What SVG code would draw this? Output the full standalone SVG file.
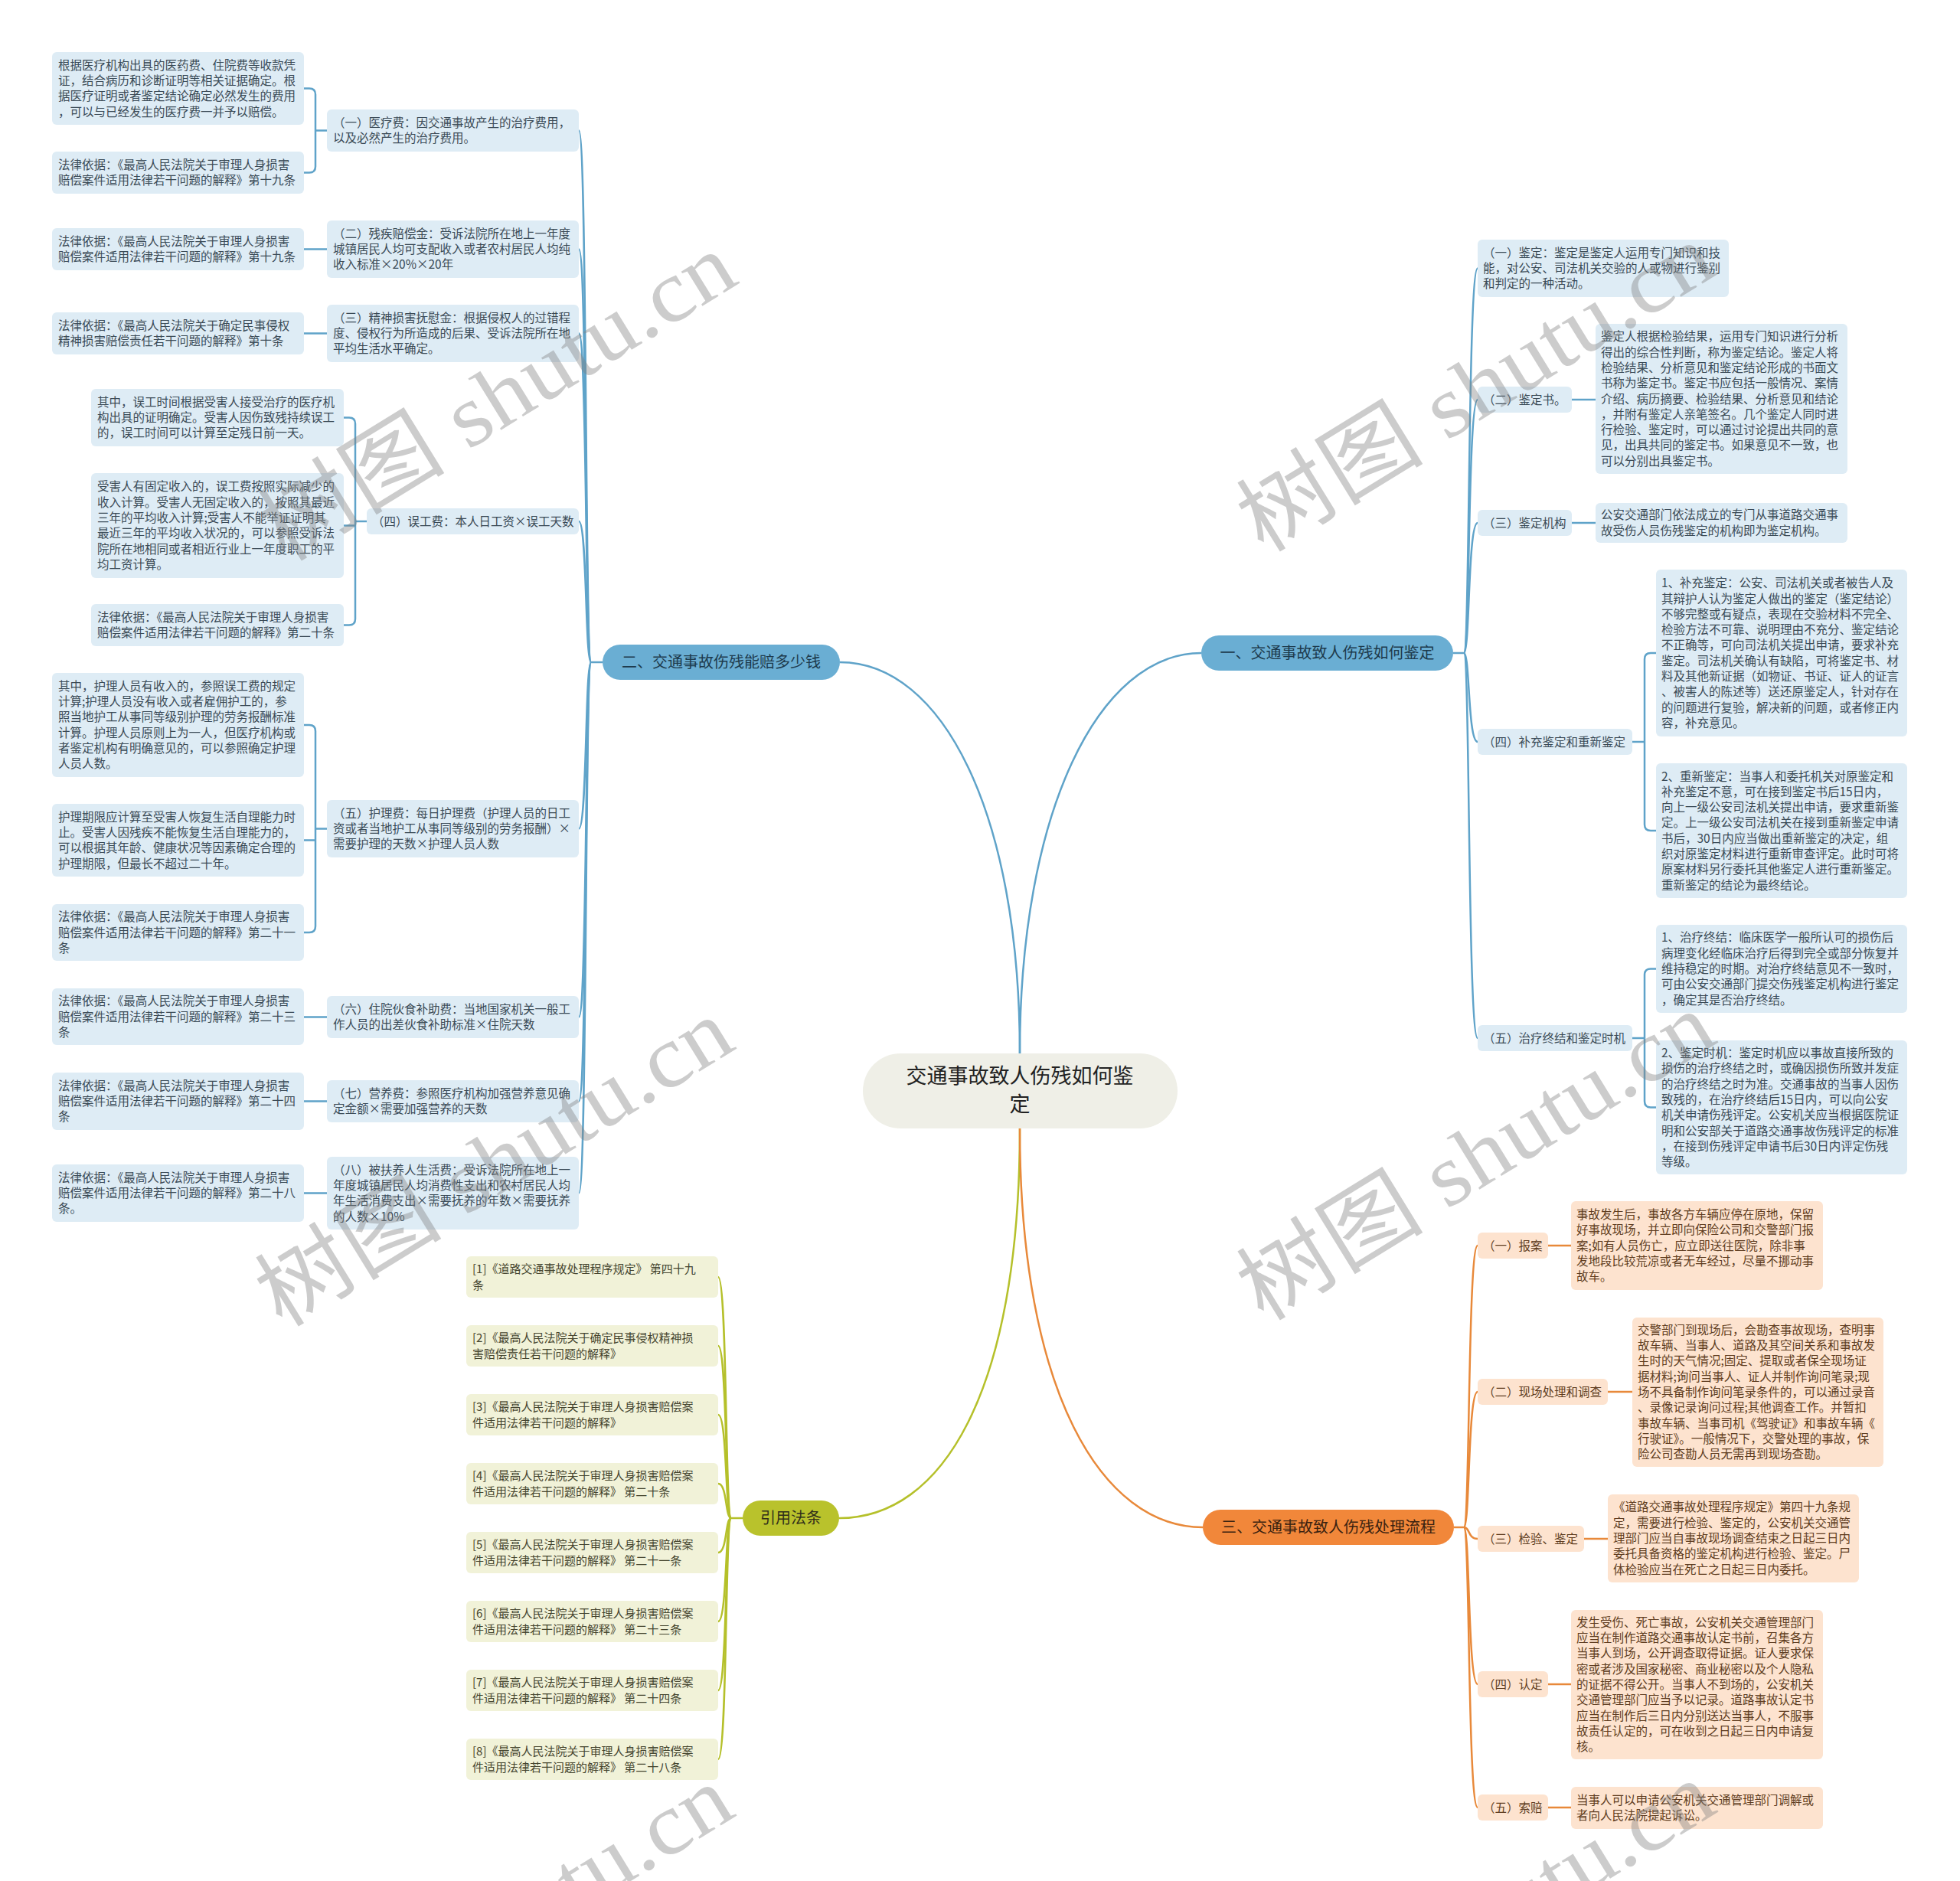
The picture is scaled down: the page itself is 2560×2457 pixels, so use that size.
<svg xmlns="http://www.w3.org/2000/svg" width="2560" height="2457" viewBox="0 0 2560 2457">
<style>
text{font-family:"Noto Sans CJK SC","Noto Sans",sans-serif}
.bb{fill:#deecf5}.bo{fill:#fde3cf}.by{fill:#f1f2d8}
.t{font-size:15.5px;fill:#3a4a56}
.to{font-size:15.5px;fill:#5e3c20}
.ty{font-size:15px;fill:#44442e}
.br{font-size:20px;text-anchor:middle}
.lnb{fill:none;stroke:#5fa3c9;stroke-width:2.5}
.lno{fill:none;stroke:#e8893a;stroke-width:2.5}
.lny{fill:none;stroke:#b5c02a;stroke-width:2.5}
.wm{font-family:"Liberation Serif","Noto Sans CJK SC",serif;font-size:115px;fill:#7f7f7f;fill-opacity:0.4;text-anchor:middle}
</style>
<rect width="2560" height="2457" fill="#ffffff"/>

<g id="connectors">
<path class="lnb" d="M1097,865 C1230,865 1332,1060 1332,1376"/>
<path class="lnb" d="M1569,853 C1435,853 1332,1060 1332,1376"/>
<path class="lny" d="M1332,1474 C1332,1820 1230,1983 1096,1983"/>
<path class="lno" d="M1332,1474 C1332,1820 1440,1995 1571,1995"/>
<!-- left spine -->
<path class="lnb" d="M787,865 H772"/>
<path class="lnb" d="M772,865 C764,865 767,170.5 756,170.5"/>
<path class="lnb" d="M772,865 C764,865 767,325.5 756,325.5"/>
<path class="lnb" d="M772,865 C764,865 767,435.5 756,435.5"/>
<path class="lnb" d="M772,865 C764,865 767,681 756,681"/>
<path class="lnb" d="M772,865 C764,865 767,1082.5 756,1082.5"/>
<path class="lnb" d="M772,865 C764,865 767,1328.5 756,1328.5"/>
<path class="lnb" d="M772,865 C764,865 767,1438.5 756,1438.5"/>
<path class="lnb" d="M772,865 C764,865 767,1558.5 756,1558.5"/>
<!-- left brackets -->
<path class="lnb" d="M427,170.5 H412 M412,170.5 V123.5 Q412,115.5 404,115.5 H397 M412,170.5 V217.5 Q412,225.5 404,225.5 H397"/>
<path class="lnb" d="M397,325.5 H427 M397,435.5 H427"/>
<path class="lnb" d="M479,681 H464 M464,681 V553.5 Q464,545.5 456,545.5 H449 M464,681 V686.5 H449 M464,681 V808.5 Q464,816.5 456,816.5 H449"/>
<path class="lnb" d="M427,1082.5 H412 M412,1082.5 V955 Q412,947 404,947 H397 M412,1082.5 V1097.5 H397 M412,1082.5 V1210 Q412,1218 404,1218 H397"/>
<path class="lnb" d="M397,1328.5 H427 M397,1438.5 H427 M397,1558.5 H427"/>
<!-- right spine -->
<path class="lnb" d="M1898,853 H1912"/>
<path class="lnb" d="M1912,853 C1920,853 1917,350.5 1930,350.5"/>
<path class="lnb" d="M1912,853 C1920,853 1917,522 1930,522"/>
<path class="lnb" d="M1912,853 C1920,853 1917,683 1930,683"/>
<path class="lnb" d="M1912,853 C1920,853 1917,969 1930,969"/>
<path class="lnb" d="M1912,853 C1920,853 1917,1356 1930,1356"/>
<path class="lnb" d="M2053,522 H2084 M2053,683 H2084"/>
<path class="lnb" d="M2132,969 H2148 M2148,969 V861 Q2148,853 2156,853 H2163 M2148,969 V1077 Q2148,1085 2156,1085 H2163"/>
<path class="lnb" d="M2132,1356 H2148 M2148,1356 V1273.5 Q2148,1265.5 2156,1265.5 H2163 M2148,1356 V1438.5 Q2148,1446.5 2156,1446.5 H2163"/>
<!-- orange spine -->
<path class="lno" d="M1899,1995 H1912"/>
<path class="lno" d="M1912,1995 C1920,1995 1917,1627 1930,1627"/>
<path class="lno" d="M1912,1995 C1920,1995 1917,1818 1930,1818"/>
<path class="lno" d="M1912,1995 C1920,1995 1917,2010 1930,2010"/>
<path class="lno" d="M1912,1995 C1920,1995 1917,2200 1930,2200"/>
<path class="lno" d="M1912,1995 C1920,1995 1917,2361 1930,2361"/>
<path class="lno" d="M2022,1627 H2052 M2100,1818 H2132 M2069,2010 H2100 M2022,2200 H2052 M2022,2361 H2052"/>
<!-- green spine -->
<path class="lny" d="M970,1983 H955"/>
<path class="lny" d="M955,1983 C947,1983 950,1668 938,1668"/>
<path class="lny" d="M955,1983 C947,1983 950,1758 938,1758"/>
<path class="lny" d="M955,1983 C947,1983 950,1848 938,1848"/>
<path class="lny" d="M955,1983 C947,1983 950,1938 938,1938"/>
<path class="lny" d="M955,1983 C947,1983 950,2028 938,2028"/>
<path class="lny" d="M955,1983 C947,1983 950,2118 938,2118"/>
<path class="lny" d="M955,1983 C947,1983 950,2208 938,2208"/>
<path class="lny" d="M955,1983 C947,1983 950,2298 938,2298"/>
</g>

<g id="center">
<rect x="1127" y="1376" width="411" height="98" rx="49" fill="#efefe7"/>
<text x="1332" y="1415" font-size="27" fill="#222" text-anchor="middle">交通事故致人伤残如何鉴</text>
<text x="1332" y="1452" font-size="27" fill="#222" text-anchor="middle">定</text>
</g>

<g id="branch-2">
<rect x="787" y="842" width="310" height="46" rx="23" fill="#6aaed3"/>
<text class="br" x="942" y="872" fill="#1d3a4c">二、交通事故伤残能赔多少钱</text>
</g>
<g id="branch-1">
<rect x="1569" y="830" width="329" height="46" rx="23" fill="#6aaed3"/>
<text class="br" x="1733.5" y="860" fill="#1d3a4c">一、交通事故致人伤残如何鉴定</text>
</g>
<g id="branch-cite">
<rect x="970" y="1960" width="126" height="46" rx="23" fill="#b9c22c"/>
<text class="br" x="1033" y="1990" fill="#2f2f1a">引用法条</text>
</g>
<g id="branch-3">
<rect x="1571" y="1972" width="328" height="46" rx="23" fill="#f1873a"/>
<text class="br" x="1735" y="2002" fill="#3a2210">三、交通事故致人伤残处理流程</text>
</g>

<!-- left sub nodes -->
<g id="s1"><rect class="bb" x="427" y="143" width="329" height="55" rx="6"/>
<text class="t" x="435" y="165.9"><tspan x="435">（一）医疗费：因交通事故产生的治疗费用，</tspan><tspan x="435" dy="20.3">以及必然产生的治疗费用。</tspan></text></g>
<g id="s2"><rect class="bb" x="427" y="288" width="329" height="75" rx="6"/>
<text class="t" x="435" y="310.7"><tspan x="435">（二）残疾赔偿金：受诉法院所在地上一年度</tspan><tspan x="435" dy="20.3">城镇居民人均可支配收入或者农村居民人均纯</tspan><tspan x="435" dy="20.3">收入标准×20%×20年</tspan></text></g>
<g id="s3"><rect class="bb" x="427" y="398" width="329" height="75" rx="6"/>
<text class="t" x="435" y="420.7"><tspan x="435">（三）精神损害抚慰金：根据侵权人的过错程</tspan><tspan x="435" dy="20.3">度、侵权行为所造成的后果、受诉法院所在地</tspan><tspan x="435" dy="20.3">平均生活水平确定。</tspan></text></g>
<g id="s4"><rect class="bb" x="479" y="664" width="277" height="34" rx="6"/>
<text class="t" x="486" y="686.5">（四）误工费：本人日工资×误工天数</text></g>
<g id="s5"><rect class="bb" x="427" y="1045" width="329" height="75" rx="6"/>
<text class="t" x="435" y="1067.7"><tspan x="435">（五）护理费：每日护理费（护理人员的日工</tspan><tspan x="435" dy="20.3">资或者当地护工从事同等级别的劳务报酬）×</tspan><tspan x="435" dy="20.3">需要护理的天数×护理人员人数</tspan></text></g>
<g id="s6"><rect class="bb" x="427" y="1301" width="329" height="55" rx="6"/>
<text class="t" x="435" y="1323.9"><tspan x="435">（六）住院伙食补助费：当地国家机关一般工</tspan><tspan x="435" dy="20.3">作人员的出差伙食补助标准×住院天数</tspan></text></g>
<g id="s7"><rect class="bb" x="427" y="1411" width="329" height="55" rx="6"/>
<text class="t" x="435" y="1433.9"><tspan x="435">（七）营养费：参照医疗机构加强营养意见确</tspan><tspan x="435" dy="20.3">定金额×需要加强营养的天数</tspan></text></g>
<g id="s8"><rect class="bb" x="427" y="1511" width="329" height="95" rx="6"/>
<text class="t" x="435" y="1533.6"><tspan x="435">（八）被扶养人生活费：受诉法院所在地上一</tspan><tspan x="435" dy="20.3">年度城镇居民人均消费性支出和农村居民人均</tspan><tspan x="435" dy="20.3">年生活消费支出×需要抚养的年数×需要抚养</tspan><tspan x="435" dy="20.3">的人数×10%</tspan></text></g>

<!-- left leaves -->
<g id="l1"><rect class="bb" x="68" y="68" width="329" height="95" rx="6"/>
<text class="t" x="76" y="90.6"><tspan x="76">根据医疗机构出具的医药费、住院费等收款凭</tspan><tspan x="76" dy="20.3">证，结合病历和诊断证明等相关证据确定。根</tspan><tspan x="76" dy="20.3">据医疗证明或者鉴定结论确定必然发生的费用</tspan><tspan x="76" dy="20.3">，可以与已经发生的医疗费一并予以赔偿。</tspan></text></g>
<g id="l2"><rect class="bb" x="68" y="198" width="329" height="55" rx="6"/>
<text class="t" x="76" y="220.9"><tspan x="76">法律依据：《最高人民法院关于审理人身损害</tspan><tspan x="76" dy="20.3">赔偿案件适用法律若干问题的解释》第十九条</tspan></text></g>
<g id="l3"><rect class="bb" x="68" y="298" width="329" height="55" rx="6"/>
<text class="t" x="76" y="320.9"><tspan x="76">法律依据：《最高人民法院关于审理人身损害</tspan><tspan x="76" dy="20.3">赔偿案件适用法律若干问题的解释》第十九条</tspan></text></g>
<g id="l4"><rect class="bb" x="68" y="408" width="329" height="55" rx="6"/>
<text class="t" x="76" y="430.9"><tspan x="76">法律依据：《最高人民法院关于确定民事侵权</tspan><tspan x="76" dy="20.3">精神损害赔偿责任若干问题的解释》第十条</tspan></text></g>
<g id="l5"><rect class="bb" x="119" y="508" width="330" height="75" rx="6"/>
<text class="t" x="127" y="530.7"><tspan x="127">其中，误工时间根据受害人接受治疗的医疗机</tspan><tspan x="127" dy="20.3">构出具的证明确定。受害人因伤致残持续误工</tspan><tspan x="127" dy="20.3">的，误工时间可以计算至定残日前一天。</tspan></text></g>
<g id="l6"><rect class="bb" x="119" y="618" width="330" height="137" rx="6"/>
<text class="t" x="127" y="641.3"><tspan x="127">受害人有固定收入的，误工费按照实际减少的</tspan><tspan x="127" dy="20.3">收入计算。受害人无固定收入的，按照其最近</tspan><tspan x="127" dy="20.3">三年的平均收入计算;受害人不能举证证明其</tspan><tspan x="127" dy="20.3">最近三年的平均收入状况的，可以参照受诉法</tspan><tspan x="127" dy="20.3">院所在地相同或者相近行业上一年度职工的平</tspan><tspan x="127" dy="20.3">均工资计算。</tspan></text></g>
<g id="l7"><rect class="bb" x="119" y="789" width="330" height="55" rx="6"/>
<text class="t" x="127" y="811.9"><tspan x="127">法律依据：《最高人民法院关于审理人身损害</tspan><tspan x="127" dy="20.3">赔偿案件适用法律若干问题的解释》第二十条</tspan></text></g>
<g id="l8"><rect class="bb" x="68" y="879" width="329" height="136" rx="6"/>
<text class="t" x="76" y="901.8"><tspan x="76">其中，护理人员有收入的，参照误工费的规定</tspan><tspan x="76" dy="20.3">计算;护理人员没有收入或者雇佣护工的，参</tspan><tspan x="76" dy="20.3">照当地护工从事同等级别护理的劳务报酬标准</tspan><tspan x="76" dy="20.3">计算。护理人员原则上为一人，但医疗机构或</tspan><tspan x="76" dy="20.3">者鉴定机构有明确意见的，可以参照确定护理</tspan><tspan x="76" dy="20.3">人员人数。</tspan></text></g>
<g id="l9"><rect class="bb" x="68" y="1050" width="329" height="95" rx="6"/>
<text class="t" x="76" y="1072.6"><tspan x="76">护理期限应计算至受害人恢复生活自理能力时</tspan><tspan x="76" dy="20.3">止。受害人因残疾不能恢复生活自理能力的，</tspan><tspan x="76" dy="20.3">可以根据其年龄、健康状况等因素确定合理的</tspan><tspan x="76" dy="20.3">护理期限，但最长不超过二十年。</tspan></text></g>
<g id="l10"><rect class="bb" x="68" y="1181" width="329" height="74" rx="6"/>
<text class="t" x="76" y="1203.2"><tspan x="76">法律依据：《最高人民法院关于审理人身损害</tspan><tspan x="76" dy="20.3">赔偿案件适用法律若干问题的解释》第二十一</tspan><tspan x="76" dy="20.3">条</tspan></text></g>
<g id="l11"><rect class="bb" x="68" y="1291" width="329" height="74" rx="6"/>
<text class="t" x="76" y="1313.2"><tspan x="76">法律依据：《最高人民法院关于审理人身损害</tspan><tspan x="76" dy="20.3">赔偿案件适用法律若干问题的解释》第二十三</tspan><tspan x="76" dy="20.3">条</tspan></text></g>
<g id="l12"><rect class="bb" x="68" y="1401" width="329" height="75" rx="6"/>
<text class="t" x="76" y="1423.7"><tspan x="76">法律依据：《最高人民法院关于审理人身损害</tspan><tspan x="76" dy="20.3">赔偿案件适用法律若干问题的解释》第二十四</tspan><tspan x="76" dy="20.3">条</tspan></text></g>
<g id="l13"><rect class="bb" x="68" y="1521" width="329" height="75" rx="6"/>
<text class="t" x="76" y="1543.7"><tspan x="76">法律依据：《最高人民法院关于审理人身损害</tspan><tspan x="76" dy="20.3">赔偿案件适用法律若干问题的解释》第二十八</tspan><tspan x="76" dy="20.3">条。</tspan></text></g>

<!-- right blue -->
<g id="r1"><rect class="bb" x="1930" y="313" width="328" height="75" rx="6"/>
<text class="t" x="1937" y="335.7"><tspan x="1937">（一）鉴定：鉴定是鉴定人运用专门知识和技</tspan><tspan x="1937" dy="20.3">能，对公安、司法机关交验的人或物进行鉴别</tspan><tspan x="1937" dy="20.3">和判定的一种活动。</tspan></text></g>
<g id="r2"><rect class="bb" x="1930" y="505" width="123" height="34" rx="6"/>
<text class="t" x="1937" y="527.5">（二）鉴定书。</text></g>
<g id="r3"><rect class="bb" x="1930" y="666" width="123" height="34" rx="6"/>
<text class="t" x="1937" y="688.5">（三）鉴定机构</text></g>
<g id="r4"><rect class="bb" x="1930" y="952" width="202" height="34" rx="6"/>
<text class="t" x="1937" y="974.5">（四）补充鉴定和重新鉴定</text></g>
<g id="r5"><rect class="bb" x="1930" y="1339" width="202" height="34" rx="6"/>
<text class="t" x="1937" y="1361.5">（五）治疗终结和鉴定时机</text></g>
<g id="rl2"><rect class="bb" x="2084" y="423" width="329" height="196" rx="6"/>
<text class="t" x="2091" y="445.3"><tspan x="2091">鉴定人根据检验结果，运用专门知识进行分析</tspan><tspan x="2091" dy="20.3">得出的综合性判断，称为鉴定结论。鉴定人将</tspan><tspan x="2091" dy="20.3">检验结果、分析意见和鉴定结论形成的书面文</tspan><tspan x="2091" dy="20.3">书称为鉴定书。鉴定书应包括一般情况、案情</tspan><tspan x="2091" dy="20.3">介绍、病历摘要、检验结果、分析意见和结论</tspan><tspan x="2091" dy="20.3">，并附有鉴定人亲笔签名。几个鉴定人同时进</tspan><tspan x="2091" dy="20.3">行检验、鉴定时，可以通过讨论提出共同的意</tspan><tspan x="2091" dy="20.3">见，出具共同的鉴定书。如果意见不一致，也</tspan><tspan x="2091" dy="20.3">可以分别出具鉴定书。</tspan></text></g>
<g id="rl3"><rect class="bb" x="2084" y="657" width="329" height="52" rx="6"/>
<text class="t" x="2091" y="678.4"><tspan x="2091">公安交通部门依法成立的专门从事道路交通事</tspan><tspan x="2091" dy="20.3">故受伤人员伤残鉴定的机构即为鉴定机构。</tspan></text></g>
<g id="rl4a"><rect class="bb" x="2163" y="744" width="328" height="218" rx="6"/>
<text class="t" x="2170" y="767.2"><tspan x="2170">1、补充鉴定：公安、司法机关或者被告人及</tspan><tspan x="2170" dy="20.3">其辩护人认为鉴定人做出的鉴定（鉴定结论）</tspan><tspan x="2170" dy="20.3">不够完整或有疑点，表现在交验材料不完全、</tspan><tspan x="2170" dy="20.3">检验方法不可靠、说明理由不充分、鉴定结论</tspan><tspan x="2170" dy="20.3">不正确等，可向司法机关提出申请，要求补充</tspan><tspan x="2170" dy="20.3">鉴定。司法机关确认有缺陷，可将鉴定书、材</tspan><tspan x="2170" dy="20.3">料及其他新证据（如物证、书证、证人的证言</tspan><tspan x="2170" dy="20.3">、被害人的陈述等）送还原鉴定人，针对存在</tspan><tspan x="2170" dy="20.3">的问题进行复验，解决新的问题，或者修正内</tspan><tspan x="2170" dy="20.3">容，补充意见。</tspan></text></g>
<g id="rl4b"><rect class="bb" x="2163" y="997" width="328" height="176" rx="6"/>
<text class="t" x="2170" y="1019.5"><tspan x="2170">2、重新鉴定：当事人和委托机关对原鉴定和</tspan><tspan x="2170" dy="20.3">补充鉴定不意，可在接到鉴定书后15日内，</tspan><tspan x="2170" dy="20.3">向上一级公安司法机关提出申请，要求重新鉴</tspan><tspan x="2170" dy="20.3">定。上一级公安司法机关在接到重新鉴定申请</tspan><tspan x="2170" dy="20.3">书后，30日内应当做出重新鉴定的决定，组</tspan><tspan x="2170" dy="20.3">织对原鉴定材料进行重新审查评定。此时可将</tspan><tspan x="2170" dy="20.3">原案材料另行委托其他鉴定人进行重新鉴定。</tspan><tspan x="2170" dy="20.3">重新鉴定的结论为最终结论。</tspan></text></g>
<g id="rl5a"><rect class="bb" x="2163" y="1208" width="328" height="115" rx="6"/>
<text class="t" x="2170" y="1230.4"><tspan x="2170">1、治疗终结：临床医学一般所认可的损伤后</tspan><tspan x="2170" dy="20.3">病理变化经临床治疗后得到完全或部分恢复并</tspan><tspan x="2170" dy="20.3">维持稳定的时期。对治疗终结意见不一致时，</tspan><tspan x="2170" dy="20.3">可由公安交通部门提交伤残鉴定机构进行鉴定</tspan><tspan x="2170" dy="20.3">，确定其是否治疗终结。</tspan></text></g>
<g id="rl5b"><rect class="bb" x="2163" y="1359" width="328" height="175" rx="6"/>
<text class="t" x="2170" y="1381"><tspan x="2170">2、鉴定时机：鉴定时机应以事故直接所致的</tspan><tspan x="2170" dy="20.3">损伤的治疗终结之时，或确因损伤所致并发症</tspan><tspan x="2170" dy="20.3">的治疗终结之时为准。交通事故的当事人因伤</tspan><tspan x="2170" dy="20.3">致残的，在治疗终结后15日内，可以向公安</tspan><tspan x="2170" dy="20.3">机关申请伤残评定。公安机关应当根据医院证</tspan><tspan x="2170" dy="20.3">明和公安部关于道路交通事故伤残评定的标准</tspan><tspan x="2170" dy="20.3">，在接到伤残评定申请书后30日内评定伤残</tspan><tspan x="2170" dy="20.3">等级。</tspan></text></g>

<!-- orange -->
<g id="o1"><rect class="bo" x="1930" y="1610" width="92" height="34" rx="6"/>
<text class="to" x="1937" y="1632.5">（一）报案</text></g>
<g id="o2"><rect class="bo" x="1930" y="1801" width="170" height="34" rx="6"/>
<text class="to" x="1937" y="1823.5">（二）现场处理和调查</text></g>
<g id="o3"><rect class="bo" x="1930" y="1993" width="139" height="34" rx="6"/>
<text class="to" x="1937" y="2015.5">（三）检验、鉴定</text></g>
<g id="o4"><rect class="bo" x="1930" y="2183" width="92" height="34" rx="6"/>
<text class="to" x="1937" y="2205.5">（四）认定</text></g>
<g id="o5"><rect class="bo" x="1930" y="2344" width="92" height="34" rx="6"/>
<text class="to" x="1937" y="2366.5">（五）索赔</text></g>
<g id="ol1"><rect class="bo" x="2052" y="1569" width="329" height="116" rx="6"/>
<text class="to" x="2059" y="1591.9"><tspan x="2059">事故发生后，事故各方车辆应停在原地，保留</tspan><tspan x="2059" dy="20.3">好事故现场，并立即向保险公司和交警部门报</tspan><tspan x="2059" dy="20.3">案;如有人员伤亡，应立即送往医院，除非事</tspan><tspan x="2059" dy="20.3">发地段比较荒凉或者无车经过，尽量不挪动事</tspan><tspan x="2059" dy="20.3">故车。</tspan></text></g>
<g id="ol2"><rect class="bo" x="2132" y="1721" width="328" height="195" rx="6"/>
<text class="to" x="2139" y="1742.8"><tspan x="2139">交警部门到现场后，会勘查事故现场，查明事</tspan><tspan x="2139" dy="20.3">故车辆、当事人、道路及其空间关系和事故发</tspan><tspan x="2139" dy="20.3">生时的天气情况;固定、提取或者保全现场证</tspan><tspan x="2139" dy="20.3">据材料;询问当事人、证人并制作询问笔录;现</tspan><tspan x="2139" dy="20.3">场不具备制作询问笔录条件的，可以通过录音</tspan><tspan x="2139" dy="20.3">、录像记录询问过程;其他调查工作。并暂扣</tspan><tspan x="2139" dy="20.3">事故车辆、当事司机《驾驶证》和事故车辆《</tspan><tspan x="2139" dy="20.3">行驶证》。一般情况下，交警处理的事故，保</tspan><tspan x="2139" dy="20.3">险公司查勘人员无需再到现场查勘。</tspan></text></g>
<g id="ol3"><rect class="bo" x="2100" y="1952" width="328" height="115" rx="6"/>
<text class="to" x="2107" y="1974.4"><tspan x="2107">《道路交通事故处理程序规定》第四十九条规</tspan><tspan x="2107" dy="20.3">定，需要进行检验、鉴定的，公安机关交通管</tspan><tspan x="2107" dy="20.3">理部门应当自事故现场调查结束之日起三日内</tspan><tspan x="2107" dy="20.3">委托具备资格的鉴定机构进行检验、鉴定。尸</tspan><tspan x="2107" dy="20.3">体检验应当在死亡之日起三日内委托。</tspan></text></g>
<g id="ol4"><rect class="bo" x="2052" y="2103" width="329" height="195" rx="6"/>
<text class="to" x="2059" y="2124.8"><tspan x="2059">发生受伤、死亡事故，公安机关交通管理部门</tspan><tspan x="2059" dy="20.3">应当在制作道路交通事故认定书前，召集各方</tspan><tspan x="2059" dy="20.3">当事人到场，公开调查取得证据。证人要求保</tspan><tspan x="2059" dy="20.3">密或者涉及国家秘密、商业秘密以及个人隐私</tspan><tspan x="2059" dy="20.3">的证据不得公开。当事人不到场的，公安机关</tspan><tspan x="2059" dy="20.3">交通管理部门应当予以记录。道路事故认定书</tspan><tspan x="2059" dy="20.3">应当在制作后三日内分别送达当事人，不服事</tspan><tspan x="2059" dy="20.3">故责任认定的，可在收到之日起三日内申请复</tspan><tspan x="2059" dy="20.3">核。</tspan></text></g>
<g id="ol5"><rect class="bo" x="2052" y="2334" width="329" height="55" rx="6"/>
<text class="to" x="2059" y="2356.9"><tspan x="2059">当事人可以申请公安机关交通管理部门调解或</tspan><tspan x="2059" dy="20.3">者向人民法院提起诉讼。</tspan></text></g>

<!-- citations -->
<g id="c1"><rect class="by" x="609" y="1641" width="329" height="54" rx="6"/>
<text class="ty" x="617" y="1663.4"><tspan x="617">[1]《道路交通事故处理程序规定》 第四十九</tspan><tspan x="617" dy="20.3">条</tspan></text></g>
<g id="c2"><rect class="by" x="609" y="1731" width="329" height="54" rx="6"/>
<text class="ty" x="617" y="1753.4"><tspan x="617">[2]《最高人民法院关于确定民事侵权精神损</tspan><tspan x="617" dy="20.3">害赔偿责任若干问题的解释》</tspan></text></g>
<g id="c3"><rect class="by" x="609" y="1821" width="329" height="54" rx="6"/>
<text class="ty" x="617" y="1843.4"><tspan x="617">[3]《最高人民法院关于审理人身损害赔偿案</tspan><tspan x="617" dy="20.3">件适用法律若干问题的解释》</tspan></text></g>
<g id="c4"><rect class="by" x="609" y="1911" width="329" height="54" rx="6"/>
<text class="ty" x="617" y="1933.4"><tspan x="617">[4]《最高人民法院关于审理人身损害赔偿案</tspan><tspan x="617" dy="20.3">件适用法律若干问题的解释》 第二十条</tspan></text></g>
<g id="c5"><rect class="by" x="609" y="2001" width="329" height="54" rx="6"/>
<text class="ty" x="617" y="2023.4"><tspan x="617">[5]《最高人民法院关于审理人身损害赔偿案</tspan><tspan x="617" dy="20.3">件适用法律若干问题的解释》 第二十一条</tspan></text></g>
<g id="c6"><rect class="by" x="609" y="2091" width="329" height="54" rx="6"/>
<text class="ty" x="617" y="2113.4"><tspan x="617">[6]《最高人民法院关于审理人身损害赔偿案</tspan><tspan x="617" dy="20.3">件适用法律若干问题的解释》 第二十三条</tspan></text></g>
<g id="c7"><rect class="by" x="609" y="2181" width="329" height="54" rx="6"/>
<text class="ty" x="617" y="2203.4"><tspan x="617">[7]《最高人民法院关于审理人身损害赔偿案</tspan><tspan x="617" dy="20.3">件适用法律若干问题的解释》 第二十四条</tspan></text></g>
<g id="c8"><rect class="by" x="609" y="2271" width="329" height="54" rx="6"/>
<text class="ty" x="617" y="2293.4"><tspan x="617">[8]《最高人民法院关于审理人身损害赔偿案</tspan><tspan x="617" dy="20.3">件适用法律若干问题的解释》 第二十八条</tspan></text></g>

<g id="watermarks">
<text class="wm" transform="translate(649,518) rotate(-31.6)" x="0" y="40" textLength="700" lengthAdjust="spacingAndGlyphs">树图 shutu.cn</text>
<text class="wm" transform="translate(1927,506) rotate(-31.6)" x="0" y="40" textLength="700" lengthAdjust="spacingAndGlyphs">树图 shutu.cn</text>
<text class="wm" transform="translate(645,1518) rotate(-31.6)" x="0" y="40" textLength="700" lengthAdjust="spacingAndGlyphs">树图 shutu.cn</text>
<text class="wm" transform="translate(1927,1510) rotate(-31.6)" x="0" y="40" textLength="700" lengthAdjust="spacingAndGlyphs">树图 shutu.cn</text>
<text class="wm" transform="translate(645,2520) rotate(-31.6)" x="0" y="40" textLength="700" lengthAdjust="spacingAndGlyphs">树图 shutu.cn</text>
<text class="wm" transform="translate(1927,2515) rotate(-31.6)" x="0" y="40" textLength="700" lengthAdjust="spacingAndGlyphs">树图 shutu.cn</text>
</g>
</svg>
